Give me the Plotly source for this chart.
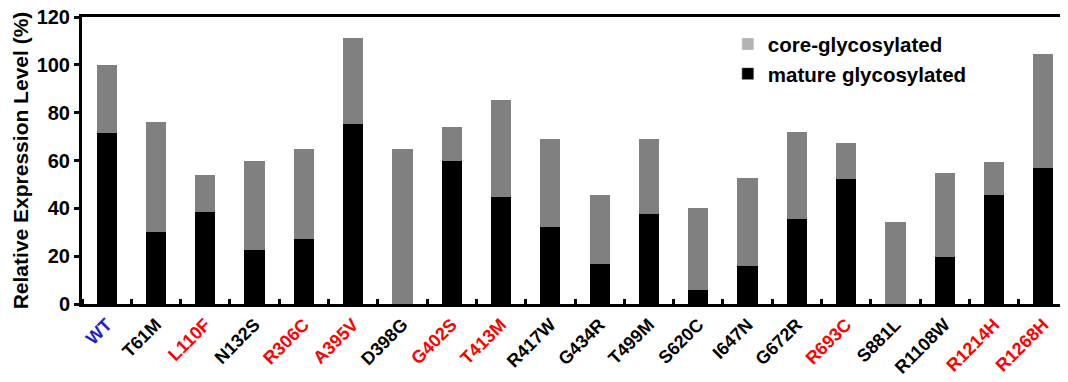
import plotly.graph_objects as go

categories = ["WT", "T61M", "L110F", "N132S", "R306C", "A395V", "D398G", "G402S",
              "T413M", "R417W", "G434R", "T499M", "S620C", "I647N", "G672R", "R693C",
              "S881L", "R1108W", "R1214H", "R1268H"]
label_colors = ["#2222cc", "black", "red", "black", "red", "red", "black", "red",
                "red", "black", "black", "black", "black", "black", "black", "red",
                "black", "black", "red", "red"]
total_level = [100, 76.2, 53.8, 59.6, 65, 111.2, 65, 74.2, 85.4, 68.8, 45.4, 68.8,
               40, 52.5, 72.1, 67.5, 34.2, 54.6, 59.2, 104.6]
mature = [71.7, 30, 38.3, 22.5, 27.1, 75.4, 0, 59.6, 44.6, 32.1, 16.7, 37.5,
          5.8, 15.8, 35.4, 52.1, 0, 19.6, 45.4, 56.7]
core = [round(t - m, 2) for t, m in zip(total_level, mature)]
y_ticks = [0, 20, 40, 60, 80, 100, 120]

FONT = "Liberation Sans, Arial, sans-serif"
pos = list(range(len(categories)))
boundaries = [p - 0.5 for p in pos] + [pos[-1] + 0.5]

fig = go.Figure()
fig.add_trace(go.Bar(x=pos, y=mature, marker=dict(color="#000000", line=dict(width=0)),
                     width=0.41, showlegend=False, name="mature glycosylated"))
fig.add_trace(go.Bar(x=pos, y=core, marker=dict(color="#808080", line=dict(width=0)),
                     width=0.41, showlegend=False, name="core-glycosylated"))
fig.add_trace(go.Bar(x=[None], y=[None], marker=dict(color="#b3b3b3"),
                     name="<b>core-glycosylated</b>"))
fig.add_trace(go.Bar(x=[None], y=[None], marker=dict(color="#000000"),
                     name="<b>mature glycosylated</b>"))

ticktext = [f'<b><span style="color:{c}">{t}</span></b>' for t, c in zip(categories, label_colors)]

fig.update_layout(
    width=1060, height=374,
    margin=dict(l=74, r=0, t=9, b=78, pad=0),
    barmode="stack",
    plot_bgcolor="white", paper_bgcolor="white",
    font=dict(family=FONT, color="black"),
    legend=dict(x=0.655, y=0.975, xanchor="left", yanchor="top",
                font=dict(size=20.5, family=FONT),
                bgcolor="rgba(0,0,0,0)", traceorder="normal"),
    xaxis=dict(
        range=[-0.5, len(categories) - 0.5], automargin=False,
        tickmode="array", tickvals=pos, ticktext=ticktext, tickangle=-45,
        tickfont=dict(size=18, family=FONT), ticklabeloverflow="allow",
        showline=True, linecolor="black", linewidth=3, mirror=True,
        ticks="",
        minor=dict(tickmode="array", tickvals=boundaries, ticks="inside", ticklen=5,
                   tickwidth=3, tickcolor="black", showgrid=False),
        showgrid=False, zeroline=False,
    ),
    yaxis=dict(
        range=[0, 120], automargin=False, tickmode="array", tickvals=y_ticks,
        ticktext=[f"<b>{v}</b>" for v in y_ticks], ticklabeloverflow="allow",
        tickfont=dict(size=20, family=FONT),
        showline=True, linecolor="black", linewidth=3,
        ticks="outside", ticklen=5, tickwidth=3, tickcolor="black",
        showgrid=False, zeroline=False,
        title=dict(text="<b>Relative Expression Level (%)</b>", standoff=3,
                   font=dict(size=21, family=FONT)),
    ),
)

fig.write_html("out.html")
